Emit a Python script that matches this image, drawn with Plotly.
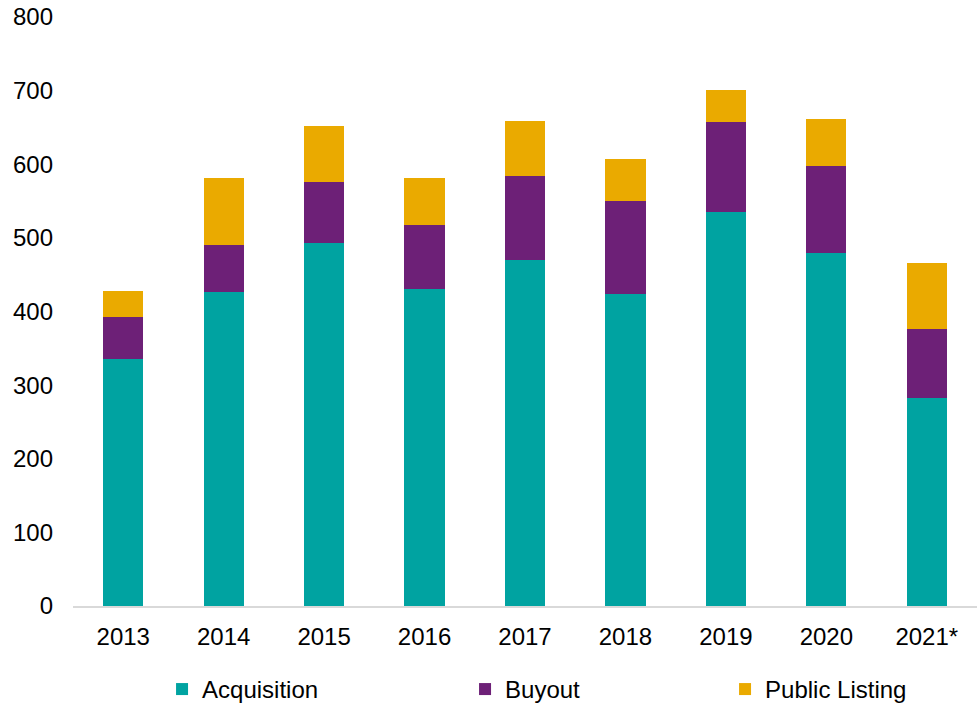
import plotly.graph_objects as go

years = ["2013", "2014", "2015", "2016", "2017", "2018", "2019", "2020", "2021*"]
acquisition = [335, 427, 493, 430, 470, 424, 535, 479, 283]
buyout = [58, 64, 83, 87, 114, 126, 122, 118, 93]
public_listing = [35, 90, 76, 65, 75, 57, 44, 64, 90]

FONT = "Liberation Sans, Arial, sans-serif"

fig = go.Figure()
fig.add_trace(go.Bar(x=years, y=acquisition, name="Acquisition",
                     marker=dict(color="#00A3A1", line=dict(width=0)), legendwidth=258))
fig.add_trace(go.Bar(x=years, y=buyout, name="Buyout",
                     marker=dict(color="#6D2077", line=dict(width=0)), legendwidth=215))
fig.add_trace(go.Bar(x=years, y=public_listing, name="Public Listing",
                     marker=dict(color="#EAAA00", line=dict(width=0))))

fig.update_layout(
    barmode="stack",
    bargap=0.6,
    width=977, height=704,
    margin=dict(l=73, r=0, t=17, b=98, autoexpand=False),
    paper_bgcolor="white", plot_bgcolor="white",
    font=dict(family=FONT, size=24, color="#000000"),
    showlegend=True,
    legend=dict(orientation="h", x=0.0985, xanchor="left", y=-0.1035, yanchor="top",
                font=dict(family=FONT, size=24, color="#000000"),
                traceorder="normal", bgcolor="rgba(0,0,0,0)"),
    xaxis=dict(showline=True, linecolor="#d9d9d9", linewidth=1.5, ticks="",
               showgrid=False, ticklabelstandoff=8, automargin=False,
               tickfont=dict(family=FONT, size=24, color="#000000")),
    yaxis=dict(range=[0, 800], dtick=100, showgrid=False, zeroline=False,
               showline=False, ticks="", ticklabelstandoff=19, automargin=False,
               tickfont=dict(family=FONT, size=24, color="#000000")),
)

fig.write_html("out.html",
               config={"displayModeBar": False},
               post_script="document.body.style.margin='0';document.body.style.overflow='hidden';")
